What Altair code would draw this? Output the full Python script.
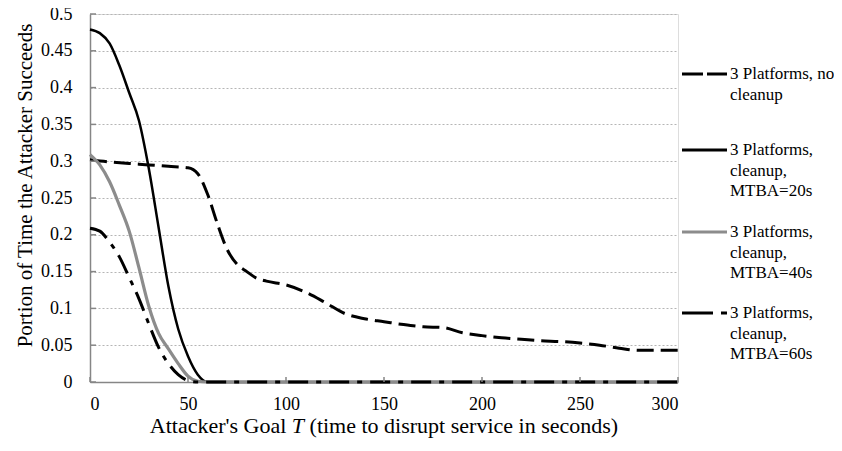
import altair as alt
import pandas as pd

# ---------------- data ----------------
x_main = [0, 5, 10, 15, 20, 25, 30, 35, 40, 45, 50, 55, 60, 70, 80, 90, 100, 120, 140, 160,
          180, 200, 220, 240, 260, 280, 300]
mtba20 = [0.479, 0.474, 0.460, 0.430, 0.393, 0.355, 0.290, 0.210, 0.130, 0.072, 0.035, 0.010, 0.0,
          0, 0, 0, 0, 0, 0, 0, 0, 0, 0, 0, 0, 0, 0]
mtba40 = [0.309, 0.295, 0.272, 0.240, 0.205, 0.155, 0.103, 0.066, 0.045, 0.025, 0.008, 0.001, 0.0,
          0, 0, 0, 0, 0, 0, 0, 0, 0, 0, 0, 0, 0, 0]
mtba60 = [0.209, 0.205, 0.190, 0.170, 0.142, 0.113, 0.079, 0.047, 0.025, 0.010, 0.002, 0.0, 0.0,
          0, 0, 0, 0, 0, 0, 0, 0, 0, 0, 0, 0, 0, 0]

x_nc = [0, 10, 20, 30, 40, 50, 55, 60, 65, 70, 75, 80, 85, 90, 100, 110, 120, 130, 140, 150,
        160, 170, 180, 190, 200, 210, 220, 230, 240, 250, 260, 270, 280, 290, 300]
no_cleanup = [0.302, 0.299, 0.297, 0.295, 0.293, 0.291, 0.283, 0.255, 0.215, 0.180, 0.160, 0.150,
              0.141, 0.137, 0.132, 0.122, 0.108, 0.093, 0.086, 0.082, 0.078, 0.075, 0.074, 0.067,
              0.063, 0.060, 0.058, 0.056, 0.055, 0.053, 0.050, 0.046, 0.043, 0.043, 0.043]

x_ticks = [0, 50, 100, 150, 200, 250, 300]
y_ticks = [0, 0.05, 0.1, 0.15, 0.2, 0.25, 0.3, 0.35, 0.4, 0.45, 0.5]

legend_labels = [
    ["3 Platforms, no", "cleanup"],
    ["3 Platforms,", "cleanup,", "MTBA=20s"],
    ["3 Platforms,", "cleanup,", "MTBA=40s"],
    ["3 Platforms,", "cleanup,", "MTBA=60s"],
]

# ---------------- layout / style ----------------
W, H = 588, 368
FONT = "Liberation Serif"
BLACK = "#000000"
GRAY = "#8c8c8c"
AXIS_GRAY = "#868686"
DASH_NC = [17, 7]
DASH_60 = [20, 8, 5, 8]

xs = alt.Scale(domain=[0, 300], nice=False, zero=False)
ys = alt.Scale(domain=[0, 0.5], nice=False)

df_nc = pd.DataFrame({"x": x_nc, "y": no_cleanup})
df20 = pd.DataFrame({"x": x_main, "y": mtba20})
df40 = pd.DataFrame({"x": x_main, "y": mtba40})
df60 = pd.DataFrame({"x": x_main, "y": mtba60})

xaxis = alt.Axis(values=x_ticks, title=None, grid=False, ticks=False, labelPadding=13,
                 format="d", labelOverlap=False,
                 labelFont=FONT, labelFontSize=18, labelColor="#000",
                 domainColor=AXIS_GRAY, domainWidth=1.5)
yaxis = alt.Axis(values=y_ticks, title="Portion of Time the Attacker Succeeds", grid=True,
                 gridDash=[2, 2], gridColor="#b5b5b5", gridWidth=1,
                 ticks=False, labelPadding=18, format=".2~f", labelOverlap=False,
                 labelFont=FONT, labelFontSize=18, labelColor="#000",
                 domainColor=AXIS_GRAY, domainWidth=1.5,
                 titleFont=FONT, titleFontSize=21, titleFontWeight="normal", titleColor="#000",
                 titleX=-65, titleY=171, titleAlign="center", titleBaseline="middle",
                 titleAngle=270)


def line(df, color, width, dash=None):
    kw = dict(color=color, strokeWidth=width, interpolate="monotone", clip=False)
    if dash:
        kw["strokeDash"] = dash
    return alt.Chart(df).mark_line(**kw).encode(
        x=alt.X("x:Q", scale=xs, axis=xaxis),
        y=alt.Y("y:Q", scale=ys, axis=yaxis),
    )


l_nc = line(df_nc, BLACK, 3, DASH_NC)
l20 = line(df20, BLACK, 2.5)
l40 = line(df40, GRAY, 3.2)
l60 = line(df60, BLACK, 3, DASH_60)

# short inward ticks on both axes
xticks = alt.Chart(pd.DataFrame({"x": x_ticks})).mark_rule(color=AXIS_GRAY, strokeWidth=1.5).encode(
    x=alt.X("x:Q", scale=xs, axis=xaxis), y=alt.value(H), y2=alt.value(H - 5))
yticks = alt.Chart(pd.DataFrame({"y": y_ticks})).mark_rule(color=AXIS_GRAY, strokeWidth=1.5).encode(
    y=alt.Y("y:Q", scale=ys, axis=yaxis), x=alt.value(0), x2=alt.value(6))

# legend (manual)
entry_top = [60, 136, 218, 299]
line_h = 20.5
styles = [(BLACK, 3, [21, 4]), (BLACK, 3, None), (GRAY, 3.2, None), (BLACK, 3, [31, 8, 6, 8])]
legend_layers = []
rows = []
for i, lines_ in enumerate(legend_labels):
    for j, t in enumerate(lines_):
        rows.append({"t": t, "py": entry_top[i] + j * line_h})
    col, wdt, dash = styles[i]
    kw = dict(color=col, strokeWidth=wdt)
    if dash:
        kw["strokeDash"] = dash
    legend_layers.append(
        alt.Chart(pd.DataFrame({"a": [0]})).mark_rule(**kw).encode(
            x=alt.value(592), x2=alt.value(637), y=alt.value(entry_top[i]))
    )
leg_text = alt.Chart(pd.DataFrame(rows)).mark_text(
    align="left", baseline="middle", font=FONT, fontSize=17, color="#000").encode(
    x=alt.value(640), y=alt.Y("py:Q", scale=None), text="t:N")

# x-axis title with italic T
unit = 22
x0 = W / 2 - 21.29 * unit / 2
title_parts = pd.DataFrame({
    "t": ["Attacker's Goal", "T", "(time to disrupt service in seconds)"],
    "px": [x0, x0 + 6.456 * unit, x0 + 7.262 * unit],
})
t1 = alt.Chart(title_parts.iloc[[0, 2]]).mark_text(
    align="left", baseline="middle", font=FONT, fontSize=unit, color="#000").encode(
    x=alt.X("px:Q", scale=None), y=alt.value(H + 44), text="t:N")
t2 = alt.Chart(title_parts.iloc[[1]]).mark_text(
    align="left", baseline="middle", font=FONT, fontSize=unit, fontStyle="italic", color="#000").encode(
    x=alt.X("px:Q", scale=None), y=alt.value(H + 44), text="t:N")

chart = alt.layer(l_nc, l20, l40, l60, xticks, yticks, *legend_layers, leg_text, t1, t2).properties(
    width=W, height=H,
    autosize=alt.AutoSizeParams(type="none"),
    padding={"left": 82, "top": 6, "right": 156, "bottom": 61},
).configure_view(stroke=None).configure(background="white")

chart.save("out.html", embed_options={"renderer": "svg", "actions": False})
